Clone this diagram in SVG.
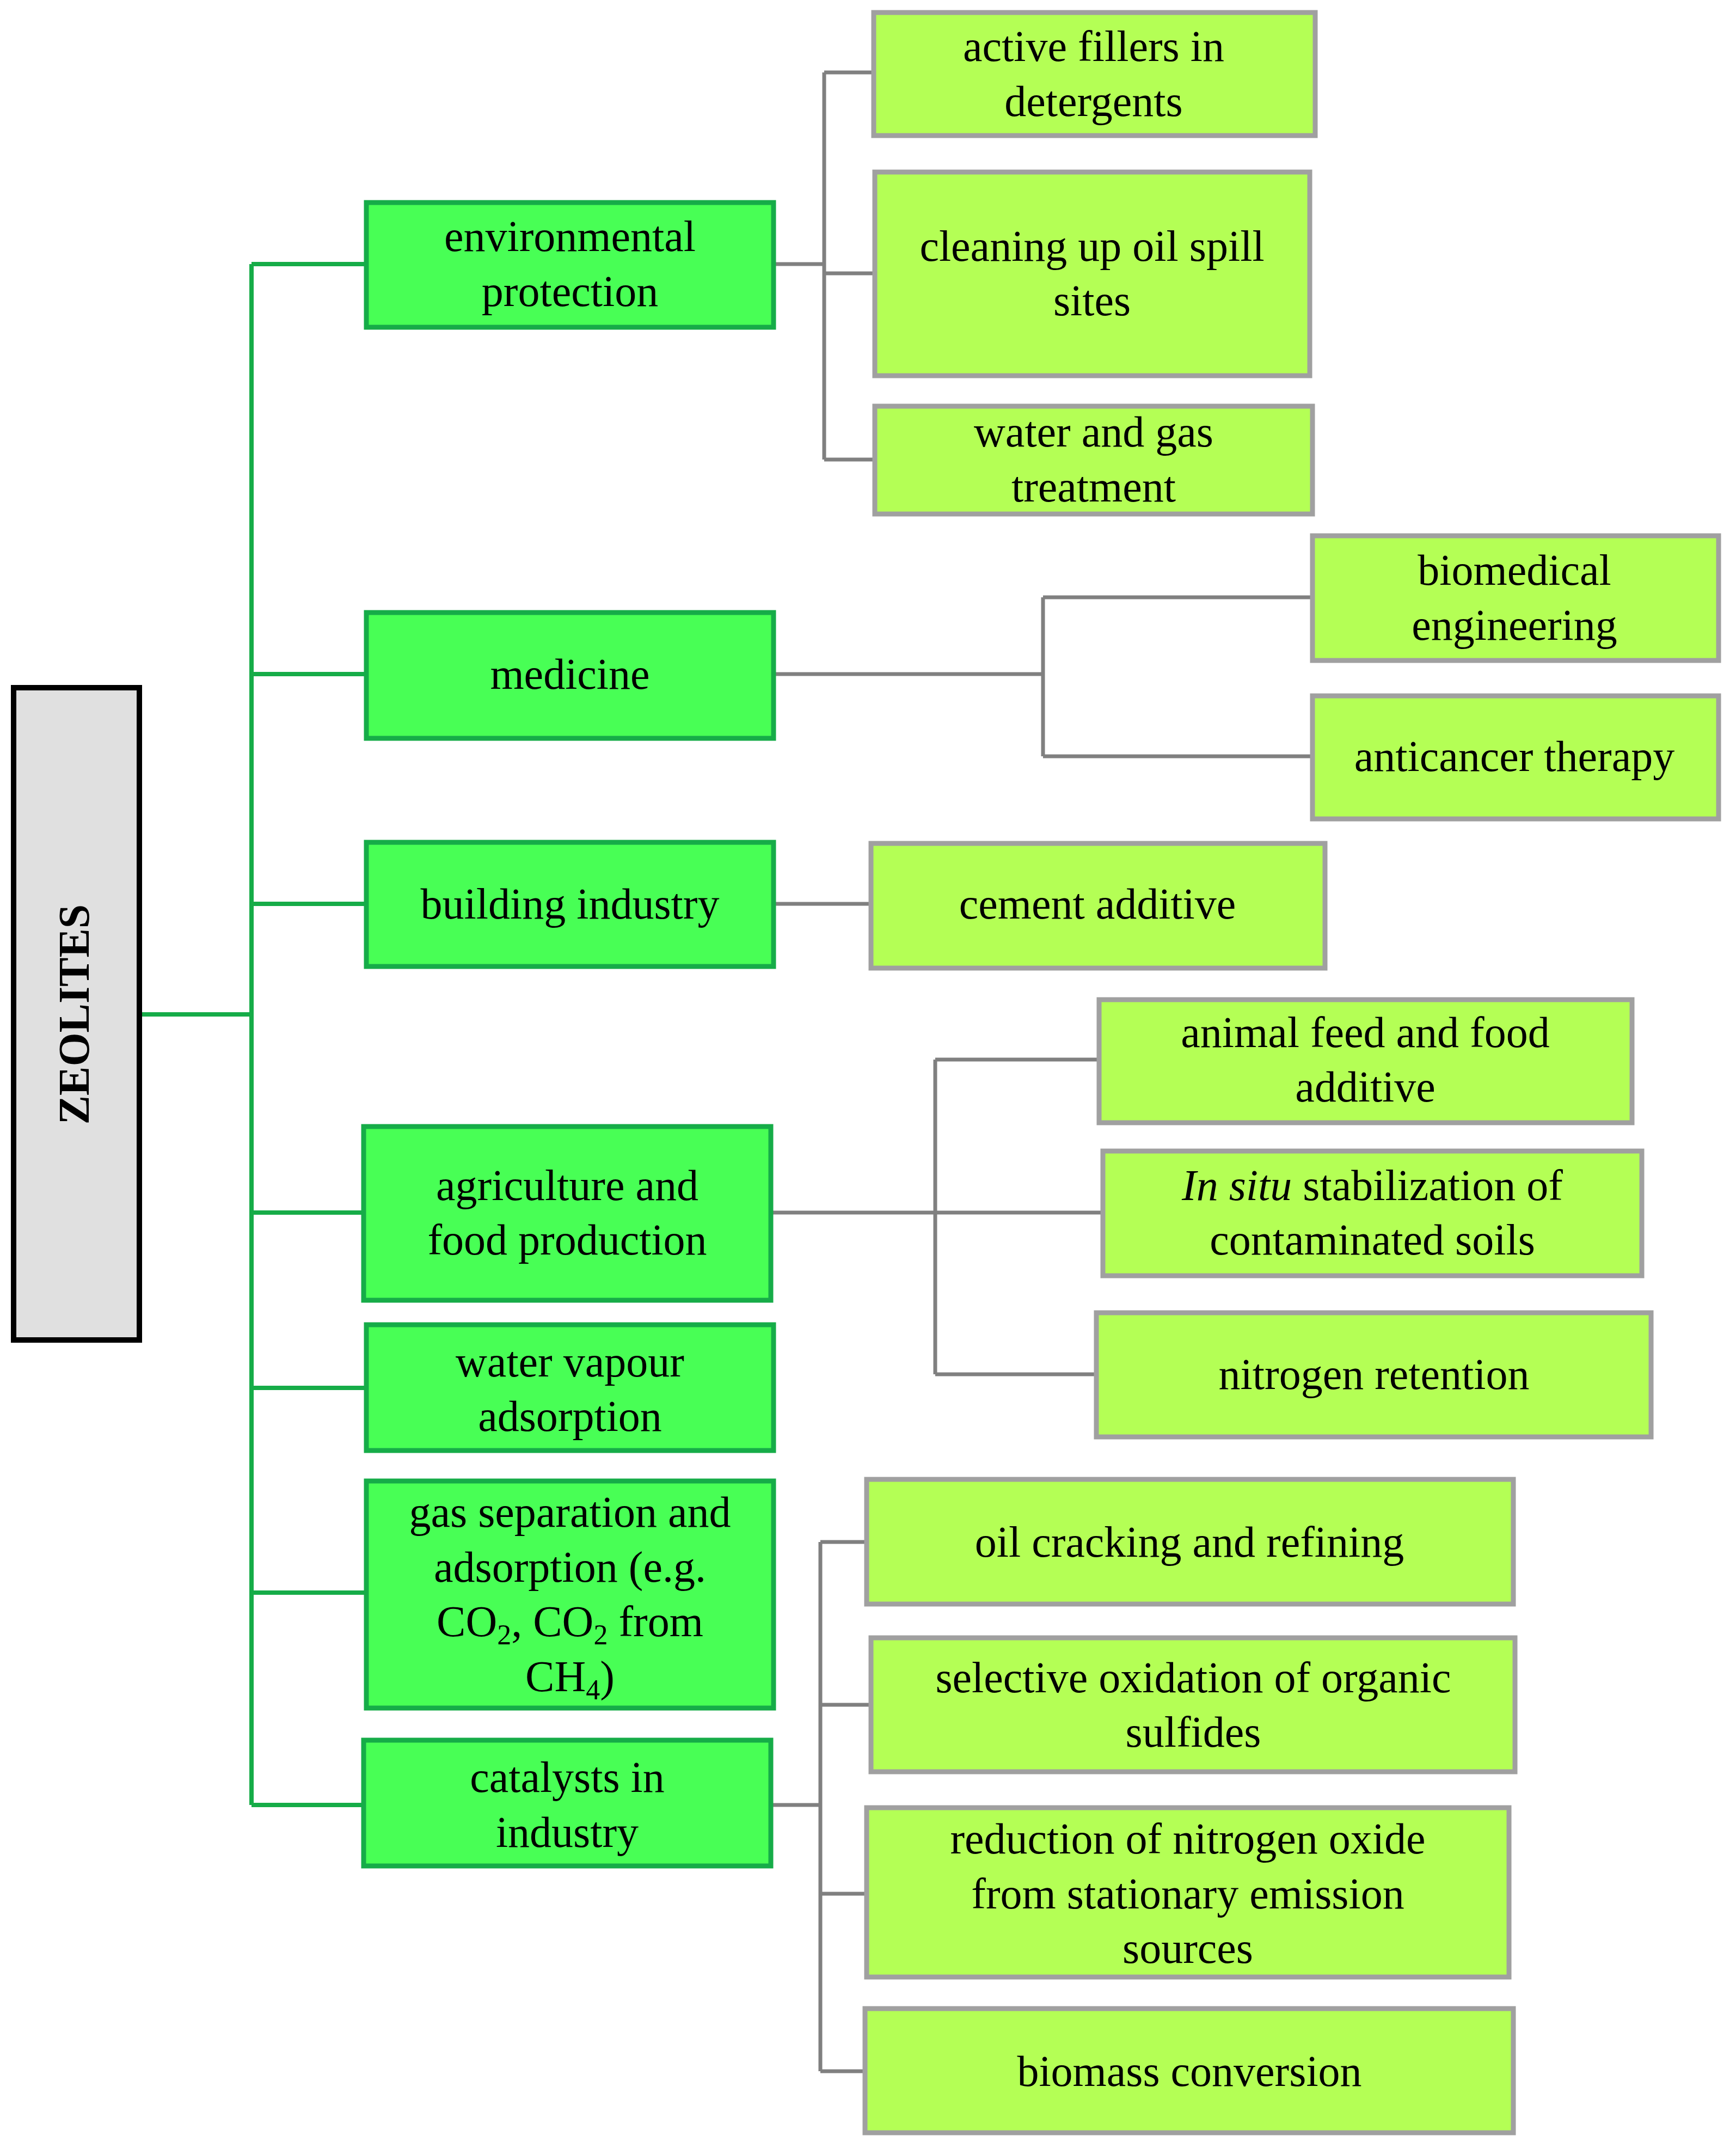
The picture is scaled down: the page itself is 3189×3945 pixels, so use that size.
<svg xmlns="http://www.w3.org/2000/svg" width="3189" height="3945" viewBox="0 0 3189 3945">
<style>
text{font-family:"Liberation Serif",serif;font-size:80px;text-anchor:middle;fill:#000}
.cat{fill:#48ff55;stroke:#16ac48;stroke-width:9}
.leaf{fill:#b4ff55;stroke:#a0a0a0;stroke-width:9}
.g{stroke:#16ac48;stroke-width:8;fill:none}
.y{stroke:#808080;stroke-width:7;fill:none}
.s{font-size:52px}
</style>
<g id="connectors">
<path class="g" d="M256 1863H462M462 485V3315M462 485H673M462 1238H673M462 1660H673M462 2227H668M462 2549H673M462 2925H673M462 3315H668"/>
<path class="y" d="M1421 485H1514M1514 133V844M1514 133H1605M1514 502H1607M1514 844H1607"/>
<path class="y" d="M1421 1238H1916M1916 1097V1389M1916 1097H2411M1916 1389H2411"/>
<path class="y" d="M1421 1660H1600"/>
<path class="y" d="M1416 2227H2026M1718 1946V2524M1718 1946H2019M1718 2524H2014"/>
<path class="y" d="M1416 3315H1507M1507 2832V3804M1507 2832H1592M1507 3131H1600M1507 3478H1592M1507 3804H1589"/>
</g>
<g id="zeolites"><rect x="25" y="1263" width="231" height="1198" fill="#e0e0e0" stroke="#000" stroke-width="10"/>
<text transform="translate(163 1863) rotate(-90)" font-weight="bold" font-size="76">ZEOLITES</text></g>
<g id="env"><rect class="cat" x="673" y="372" width="748" height="229"/><text x="1047" y="461">environmental</text><text x="1047" y="562">protection</text></g>
<g id="medicine"><rect class="cat" x="673" y="1125" width="748" height="231"/><text x="1047" y="1265">medicine</text></g>
<g id="building"><rect class="cat" x="673" y="1547" width="748" height="228"/><text x="1047" y="1687">building industry</text></g>
<g id="agri"><rect class="cat" x="668" y="2069" width="748" height="319"/><text x="1042" y="2204">agriculture and</text><text x="1042" y="2304">food production</text></g>
<g id="water"><rect class="cat" x="673" y="2433" width="748" height="231"/><text x="1047" y="2528">water vapour</text><text x="1047" y="2628">adsorption</text></g>
<g id="gas"><rect class="cat" x="673" y="2720" width="748" height="417"/><text x="1047" y="2804">gas separation and</text><text x="1047" y="2905">adsorption (e.g.</text><text x="1047" y="3005">CO<tspan class="s" dy="15">2</tspan><tspan dy="-15">, CO</tspan><tspan class="s" dy="15">2</tspan><tspan dy="-15"> from</tspan></text><text x="1047" y="3106">CH<tspan class="s" dy="15">4</tspan><tspan dy="-15">)</tspan></text></g>
<g id="catalysts"><rect class="cat" x="668" y="3196" width="748" height="231"/><text x="1042" y="3291">catalysts in</text><text x="1042" y="3392">industry</text></g>
<g id="active"><rect class="leaf" x="1605" y="23" width="811" height="226"/><text x="2009" y="112">active fillers in</text><text x="2009" y="213">detergents</text></g>
<g id="cleaning"><rect class="leaf" x="1607" y="316" width="799" height="374"/><text x="2006" y="479">cleaning up oil spill</text><text x="2006" y="579">sites</text></g>
<g id="watergas"><rect class="leaf" x="1607" y="746" width="804" height="198"/><text x="2009" y="820">water and gas</text><text x="2009" y="921">treatment</text></g>
<g id="biomedical"><rect class="leaf" x="2411" y="984" width="746" height="229"/><text x="2782" y="1074">biomedical</text><text x="2782" y="1175">engineering</text></g>
<g id="anticancer"><rect class="leaf" x="2411" y="1278" width="746" height="226"/><text x="2782" y="1416">anticancer therapy</text></g>
<g id="cement"><rect class="leaf" x="1600" y="1549" width="834" height="229"/><text x="2016" y="1687">cement additive</text></g>
<g id="animal"><rect class="leaf" x="2019" y="1836" width="979" height="226"/><text x="2508" y="1923">animal feed and food</text><text x="2508" y="2023">additive</text></g>
<g id="insitu"><rect class="leaf" x="2026" y="2114" width="990" height="229"/><text x="2521" y="2204"><tspan font-style="italic">In situ</tspan> stabilization of</text><text x="2521" y="2304">contaminated soils</text></g>
<g id="nitrogen"><rect class="leaf" x="2014" y="2411" width="1019" height="228"/><text x="2524" y="2551">nitrogen retention</text></g>
<g id="oil"><rect class="leaf" x="1592" y="2717" width="1188" height="229"/><text x="2185" y="2859">oil cracking and refining</text></g>
<g id="selective"><rect class="leaf" x="1600" y="3008" width="1183" height="246"/><text x="2192" y="3108">selective oxidation of organic</text><text x="2192" y="3208">sulfides</text></g>
<g id="reduction"><rect class="leaf" x="1592" y="3320" width="1180" height="311"/><text x="2182" y="3404">reduction of nitrogen oxide</text><text x="2182" y="3505">from stationary emission</text><text x="2182" y="3605">sources</text></g>
<g id="biomass"><rect class="leaf" x="1589" y="3689" width="1191" height="228"/><text x="2185" y="3831">biomass conversion</text></g>
</svg>
